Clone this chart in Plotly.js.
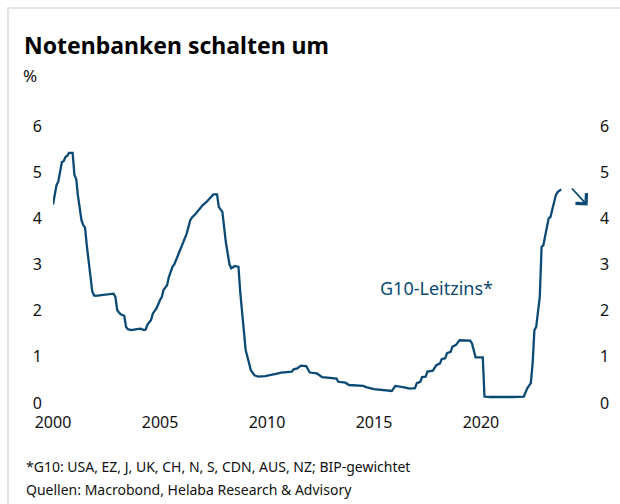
<!DOCTYPE html>
<html>
<head>
<meta charset="utf-8">
<script src="https://cdn.plot.ly/plotly-3.0.1.min.js"></script>
<style>
  body { margin: 0; background: #fff; }
  #plot { width: 620px; height: 504px; }
  #frame { position: absolute; left: 7px; top: 7px; width: 620px; height: 504px;
           border-top: 2px solid #e4e4e4; border-left: 2px solid #e4e4e4; pointer-events: none; }
</style>
</head>
<body>
<div id="plot"></div>
<div id="frame"></div>
<script>
// G10 policy rate, GDP-weighted (%)
var dates = [
  '2000-01','2000-02','2000-03','2000-04','2000-05','2000-06','2000-07','2000-08','2000-09','2000-10','2000-11','2000-12',
  '2001-01','2001-02','2001-03','2001-04','2001-05','2001-06','2001-07','2001-08','2001-09','2001-10','2001-11','2001-12',
  '2002-01','2002-03','2002-06','2002-09','2002-11','2002-12',
  '2003-01','2003-02','2003-03','2003-05','2003-06','2003-07','2003-09','2003-12',
  '2004-02','2004-04','2004-05','2004-06','2004-08','2004-09','2004-11',
  '2005-01','2005-02','2005-03','2005-05','2005-06','2005-08','2005-09','2005-11',
  '2006-01','2006-02','2006-04','2006-06','2006-07','2006-09','2006-11',
  '2007-01','2007-03','2007-05','2007-07','2007-09','2007-10','2007-12',
  '2008-02','2008-04','2008-05','2008-07','2008-09','2008-10','2008-11',
  '2009-01','2009-02','2009-04','2009-06','2009-08','2009-12',
  '2010-03','2010-06','2010-09','2010-12',
  '2011-03','2011-04','2011-06','2011-08','2011-11',
  '2012-01','2012-05','2012-08',
  '2013-04','2013-05','2013-09','2013-11',
  '2014-07','2014-09',
  '2015-01','2015-11',
  '2016-01','2016-06','2016-09','2016-12',
  '2017-01','2017-03','2017-04','2017-06','2017-07','2017-10','2017-12',
  '2018-02','2018-03','2018-05','2018-06','2018-08','2018-09','2018-11',
  '2019-01','2019-07','2019-08','2019-10',
  '2020-02','2020-03','2020-06',
  '2021-06',
  '2022-01','2022-03','2022-05','2022-06','2022-07','2022-08','2022-10','2022-11','2022-12',
  '2023-03','2023-04','2023-07','2023-08','2023-10'
];
var rates = [
  4.30,4.55,4.72,4.80,5.05,5.22,5.24,5.33,5.36,5.42,5.42,5.42,
  4.94,4.85,4.50,4.20,3.96,3.85,3.80,3.40,3.05,2.65,2.42,2.33,
  2.32,2.33,2.35,2.37,2.37,2.30,
  2.01,1.96,1.92,1.89,1.65,1.60,1.58,1.60,
  1.61,1.58,1.59,1.70,1.80,1.94,2.05,
  2.23,2.30,2.45,2.55,2.73,2.95,3.00,3.20,
  3.42,3.49,3.67,3.96,4.02,4.10,4.20,
  4.29,4.35,4.43,4.52,4.52,4.25,4.14,
  3.46,3.00,2.92,2.97,2.95,2.40,1.94,
  1.15,1.00,0.71,0.60,0.57,0.58,
  0.60,0.63,0.66,0.67,
  0.68,0.73,0.75,0.81,0.80,
  0.66,0.64,0.56,
  0.53,0.46,0.44,0.39,
  0.37,0.34,
  0.30,0.26,
  0.37,0.34,0.31,0.32,
  0.43,0.46,0.56,0.57,0.68,0.70,0.82,
  0.86,0.95,0.97,1.08,1.11,1.22,1.26,
  1.36,1.35,1.29,0.99,
  0.99,0.14,0.13,
  0.13,
  0.14,0.32,0.43,0.86,1.58,1.65,2.30,3.38,3.42,
  4.00,4.03,4.50,4.57,4.63
];
// arrow pointing to expected rate cuts
var arrowFrom = ['2024-03-10', 4.68];
var arrowTo = ['2024-12-25', 4.28];

var xTicks = ['2000-01-01','2005-01-01','2010-01-01','2015-01-01','2020-01-01'];
var xTickText = ['2000','2005','2010','2015','2020'];
var yTicks = [0,1,2,3,4,5,6];

var blue = '#0b4a74';
var font = 'Noto Sans, Open Sans, sans-serif';

// pixel helpers for paper coordinates (plot area 53..588 x 103..403)
function px(p) { return (p - 53) / 535; }
function py(p) { return (403 - p) / 300; }

var trace1 = {
  x: dates,
  y: rates,
  type: 'scatter',
  mode: 'lines',
  line: {color: blue, width: 2.3},
  hoverinfo: 'skip'
};
var trace2 = {
  x: dates,
  y: rates,
  yaxis: 'y2',
  type: 'scatter',
  mode: 'lines',
  line: {color: 'rgba(0,0,0,0)', width: 0},
  hoverinfo: 'skip'
};

var layout = {
  width: 620,
  height: 504,
  margin: {l: 53, r: 32, t: 103, b: 101},
  paper_bgcolor: '#fff',
  plot_bgcolor: '#fff',
  showlegend: false,
  font: {family: font, size: 16, color: '#111'},
  xaxis: {
    type: 'date',
    range: ['2000-01-01', '2025-01-01'],
    tickvals: xTicks,
    ticktext: xTickText,
    showgrid: false,
    zeroline: false,
    showline: false,
    ticks: '',
    ticklabelstandoff: 8
  },
  yaxis: {
    range: [0, 6.5],
    tickvals: yTicks,
    showgrid: false,
    zeroline: false,
    showline: false,
    ticks: '',
    ticklabelstandoff: 10
  },
  yaxis2: {
    overlaying: 'y',
    side: 'right',
    range: [0, 6.5],
    tickvals: yTicks,
    showgrid: false,
    zeroline: false,
    showline: false,
    ticks: '',
    ticklabelstandoff: 11
  },
  annotations: [
    {xref: 'paper', yref: 'paper', x: px(22), y: py(45), xanchor: 'left', yanchor: 'middle',
     text: '<b>Notenbanken schalten um</b>', showarrow: false, font: {size: 23, color: '#000'}},
    {xref: 'paper', yref: 'paper', x: px(21), y: py(75), xanchor: 'left', yanchor: 'middle',
     text: '%', showarrow: false, font: {size: 17, color: '#111'}},
    {xref: 'paper', yref: 'paper', x: px(437), y: py(288), xanchor: 'center', yanchor: 'middle',
     text: 'G10-Leitzins*', showarrow: false, font: {size: 18, color: blue}},
    {xref: 'paper', yref: 'paper', x: px(24), y: py(466), xanchor: 'left', yanchor: 'middle',
     text: '*G10: USA, EZ, J, UK, CH, N, S, CDN, AUS, NZ; BIP-gewichtet', showarrow: false,
     font: {size: 14, color: '#111'}},
    {xref: 'paper', yref: 'paper', x: px(24), y: py(489), xanchor: 'left', yanchor: 'middle',
     text: 'Quellen: Macrobond, Helaba Research &amp; Advisory', showarrow: false,
     font: {size: 14, color: '#111'}},
    {xref: 'x', yref: 'y', axref: 'x', ayref: 'y',
     x: arrowTo[0], y: arrowTo[1], ax: arrowFrom[0], ay: arrowFrom[1],
     text: '', showarrow: true, arrowhead: 4, arrowsize: 1.6, arrowwidth: 1.8, arrowcolor: blue}
  ]
};

Plotly.newPlot('plot', [trace1, trace2], layout, {displayModeBar: false, staticPlot: true});
</script>
</body>
</html>
